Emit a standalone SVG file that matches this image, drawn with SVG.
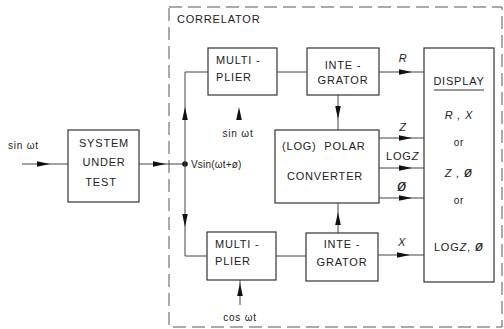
<svg xmlns="http://www.w3.org/2000/svg" xmlns:xlink="http://www.w3.org/1999/xlink" width="504" height="329" viewBox="0 0 504 329">
<style>
.box{fill:none;stroke:#333;stroke-width:1.2}
.ln{fill:none;stroke:#444;stroke-width:1}
.t{font-family:"Liberation Sans",Arial,sans-serif;font-size:11px;fill:#222;letter-spacing:0.8px}
.c{text-anchor:middle}
.i{font-style:italic}
.ah{fill:#111}
.phi{font-size:14px;font-style:italic}
</style>
<defs>
<path id="ah" d="M0,0 L-13,-2.8 L-13,2.8 Z"/>
</defs>
<rect width="504" height="329" fill="#fff"/>
<g id="correlator">
<rect x="169" y="7" width="333" height="320" fill="none" stroke="#555" stroke-width="1" stroke-dasharray="13 6"/>
<text class="t" x="177" y="23">CORRELATOR</text>
</g>
<g id="sut">
<rect class="box" x="68" y="130" width="71" height="72"/>
<text class="t c" x="104" y="147">SYSTEM</text>
<text class="t c" x="104" y="166">UNDER</text>
<text class="t c" x="101" y="186">TEST</text>
</g>
<g id="mult1">
<rect class="box" x="208" y="48" width="69" height="47"/>
<text class="t" x="216" y="64">MULTI -</text>
<text class="t" x="216" y="81">PLIER</text>
</g>
<g id="mult2">
<rect class="box" x="207" y="232" width="69" height="48"/>
<text class="t" x="215" y="248">MULTI -</text>
<text class="t" x="215" y="265">PLIER</text>
</g>
<g id="int1">
<rect class="box" x="307" y="48" width="72" height="47"/>
<text class="t c" x="343" y="69">INTE -</text>
<text class="t c" x="343" y="84">GRATOR</text>
</g>
<g id="int2">
<rect class="box" x="306" y="233" width="72" height="48"/>
<text class="t c" x="342" y="248">INTE -</text>
<text class="t c" x="342" y="266">GRATOR</text>
</g>
<g id="polar">
<rect class="box" x="275" y="130" width="104" height="73"/>
<text class="t" x="282" y="150" xml:space="preserve">(LOG)  POLAR</text>
<text class="t c" x="325" y="180">CONVERTER</text>
</g>
<g id="display">
<rect class="box" x="424" y="48" width="70" height="234"/>
<text class="t c" x="459" y="85">DISPLAY</text>
<line x1="434" y1="90" x2="484" y2="90" stroke="#333" stroke-width="1"/>
<text class="t c i" x="459" y="119">R , X</text>
<text class="t c" x="459" y="146" style="font-size:10px">or</text>
<text class="t c i" x="459" y="177">Z , <tspan class="phi">ø</tspan></text>
<text class="t c" x="459" y="204" style="font-size:10px">or</text>
<text class="t c" x="459" y="251">LOG<tspan font-style="italic">Z</tspan>, <tspan class="phi">ø</tspan></text>
</g>
<g id="connectors">
<line class="ln" x1="22" y1="164" x2="68" y2="164"/>
<use href="#ah" class="ah" transform="translate(50,164)"/>
<line class="ln" x1="139" y1="164" x2="185" y2="164"/>
<use href="#ah" class="ah" transform="translate(166,164)"/>
<circle cx="185" cy="164" r="2.8" fill="#111"/>
<polyline class="ln" points="208,72 185,72 185,256 207,256"/>
<use href="#ah" class="ah" transform="translate(185,107) rotate(-90)"/>
<use href="#ah" class="ah" transform="translate(185,227) rotate(90)"/>
<use href="#ah" class="ah" transform="translate(239,107) rotate(-90)"/>
<line class="ln" x1="240" y1="305" x2="240" y2="280"/>
<use href="#ah" class="ah" transform="translate(240,283) rotate(-90)"/>
<line class="ln" x1="277" y1="72" x2="307" y2="72"/>
<line class="ln" x1="276" y1="256" x2="306" y2="256"/>
<line class="ln" x1="338" y1="95" x2="338" y2="130"/>
<use href="#ah" class="ah" transform="translate(338,119) rotate(90)"/>
<line class="ln" x1="338" y1="233" x2="338" y2="203"/>
<use href="#ah" class="ah" transform="translate(338,212) rotate(-90)"/>
<line class="ln" x1="379" y1="72" x2="424" y2="72"/>
<use href="#ah" class="ah" transform="translate(412,72)"/>
<line class="ln" x1="379" y1="138" x2="424" y2="138"/>
<use href="#ah" class="ah" transform="translate(412,138)"/>
<line class="ln" x1="379" y1="168" x2="424" y2="168"/>
<use href="#ah" class="ah" transform="translate(412,168)"/>
<line class="ln" x1="379" y1="198" x2="424" y2="198"/>
<use href="#ah" class="ah" transform="translate(412,198)"/>
<line class="ln" x1="378" y1="255" x2="424" y2="255"/>
<use href="#ah" class="ah" transform="translate(410,255)"/>
</g>
<g id="labels">
<text class="t" x="8" y="149" style="font-size:10px">sin ωt</text>
<text class="t" x="191" y="168" style="font-size:10px;letter-spacing:0.2px">Vsin(ωt+ø)</text>
<text class="t c" x="238" y="137" style="font-size:10px">sin ωt</text>
<text class="t c" x="240" y="321" style="font-size:10px">cos ωt</text>
<text class="t c i" x="403" y="62">R</text>
<text class="t c i" x="403" y="131">Z</text>
<text class="t" x="386" y="160">LOG<tspan font-style="italic">Z</tspan></text>
<text class="t c" x="402" y="191"><tspan class="phi" style="font-size:16px">ø</tspan></text>
<text class="t c i" x="402" y="246">X</text>
</g>
</svg>
